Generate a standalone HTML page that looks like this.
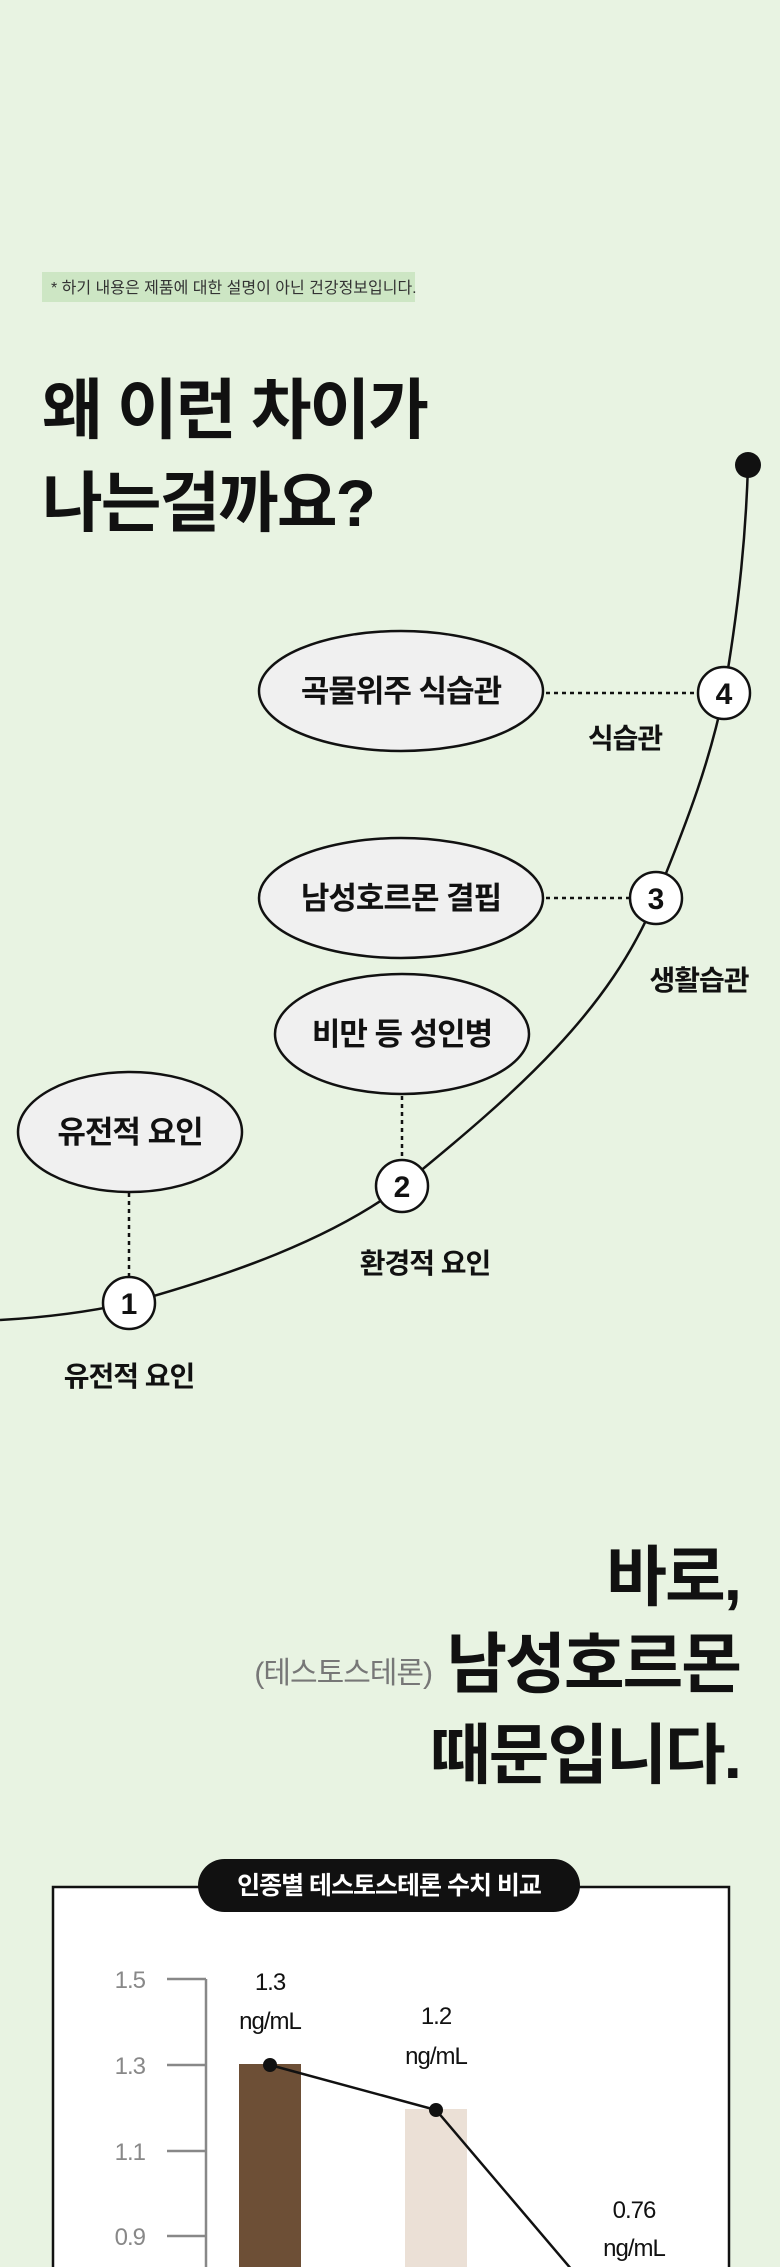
<!DOCTYPE html>
<html><head><meta charset="utf-8">
<style>
html,body{margin:0;padding:0;background:#e8f3e2;}
svg{display:block;}
text{font-family:"Liberation Sans","Noto Sans CJK KR",sans-serif;}
</style></head>
<body>
<svg width="780" height="2267" viewBox="0 0 780 2267" xmlns="http://www.w3.org/2000/svg">
<rect width="780" height="2267" fill="#e8f3e2"/>
<!-- disclaimer -->
<rect x="42" y="272" width="373" height="30" fill="#cde6c4"/>
<text x="51" y="293" font-size="16" fill="#333">* 하기 내용은 제품에 대한 설명이 아닌 건강정보입니다.</text>
<!-- title -->
<text x="42" y="433" font-size="66" font-weight="bold" fill="#111" letter-spacing="-2">왜 이런 차이가</text>
<text x="42" y="526" font-size="66" font-weight="bold" fill="#111" letter-spacing="-2">나는걸까요?</text>

<!-- curve -->
<path d="M0 1320 Q 70 1316 129 1303 C 230 1275 330 1240 402 1186 C 520 1090 610 1010 656 898 C 690 815 710 760 724 693 C 740 600 746 530 748 465" fill="none" stroke="#111" stroke-width="2.5"/>
<circle cx="748" cy="465" r="13" fill="#111"/>

<!-- dotted connectors -->
<g stroke="#111" stroke-width="2.5" stroke-dasharray="4 4">
<line x1="546" y1="693" x2="698" y2="693"/>
<line x1="546" y1="898" x2="630" y2="898"/>
<line x1="402" y1="1096" x2="402" y2="1160"/>
<line x1="129" y1="1193" x2="129" y2="1277"/>
</g>

<!-- ellipses -->
<g fill="#f0f0f0" stroke="#111" stroke-width="2.5">
<ellipse cx="401" cy="691" rx="142" ry="60"/>
<ellipse cx="401" cy="898" rx="142" ry="60"/>
<ellipse cx="402" cy="1034" rx="127" ry="60"/>
<ellipse cx="130" cy="1132" rx="112" ry="60"/>
</g>
<g font-size="31" font-weight="bold" fill="#111" text-anchor="middle" letter-spacing="-1">
<text x="401" y="702">곡물위주 식습관</text>
<text x="401" y="909">남성호르몬 결핍</text>
<text x="402" y="1045">비만 등 성인병</text>
<text x="130" y="1143">유전적 요인</text>
</g>

<!-- number circles -->
<g fill="#fff" stroke="#111" stroke-width="2.5">
<circle cx="724" cy="693" r="26"/>
<circle cx="656" cy="898" r="26"/>
<circle cx="402" cy="1186" r="26"/>
<circle cx="129" cy="1303" r="26"/>
</g>
<g font-size="30" font-weight="bold" fill="#111" text-anchor="middle">
<text x="724" y="704">4</text>
<text x="656" y="909">3</text>
<text x="402" y="1197">2</text>
<text x="129" y="1314">1</text>
</g>
<g font-size="28" font-weight="bold" fill="#111" text-anchor="middle" letter-spacing="-1">
<text x="625" y="748">식습관</text>
<text x="699" y="990">생활습관</text>
<text x="425" y="1273">환경적 요인</text>
<text x="129" y="1386">유전적 요인</text>
</g>

<!-- section 2 headline -->
<g font-size="66" font-weight="bold" fill="#111" text-anchor="end" letter-spacing="-2">
<text x="740" y="1600">바로,</text>
<text x="740" y="1687">남성호르몬</text>
<text x="740" y="1778">때문입니다.</text>
</g>
<text x="432" y="1683" font-size="30" fill="#777" text-anchor="end" letter-spacing="-1">(테스토스테론)</text>

<!-- chart -->
<rect x="53" y="1887" width="676" height="400" fill="#fff" stroke="#111" stroke-width="2.5"/>
<rect x="198" y="1859" width="382" height="53" rx="26.5" fill="#111"/>
<text x="389" y="1894" font-size="25" font-weight="bold" fill="#fff" text-anchor="middle" letter-spacing="-1">인종별 테스토스테론 수치 비교</text>

<g stroke="#888" stroke-width="2.5" fill="none">
<line x1="206" y1="1979" x2="206" y2="2267"/>
<line x1="167" y1="1979" x2="206" y2="1979"/>
<line x1="167" y1="2065" x2="206" y2="2065"/>
<line x1="167" y1="2151" x2="206" y2="2151"/>
<line x1="167" y1="2236" x2="206" y2="2236"/>
</g>
<g font-size="24" fill="#888" text-anchor="end" letter-spacing="-1">
<text x="145" y="1988">1.5</text>
<text x="145" y="2074">1.3</text>
<text x="145" y="2160">1.1</text>
<text x="145" y="2245">0.9</text>
</g>
<rect x="239" y="2064" width="62" height="210" fill="#6d4f36"/>
<rect x="405" y="2109" width="62" height="170" fill="#ebe0d6"/>
<polyline points="270,2065 436,2110 572,2270" fill="none" stroke="#111" stroke-width="2.5"/>
<circle cx="270" cy="2065" r="7" fill="#111"/>
<circle cx="436" cy="2110" r="7" fill="#111"/>
<g font-size="24" fill="#111" text-anchor="middle" letter-spacing="-1">
<text x="270" y="1990">1.3</text>
<text x="270" y="2029">ng/mL</text>
<text x="436" y="2024">1.2</text>
<text x="436" y="2064">ng/mL</text>
<text x="634" y="2218">0.76</text>
<text x="634" y="2256">ng/mL</text>
</g>
</svg>
</body></html>
